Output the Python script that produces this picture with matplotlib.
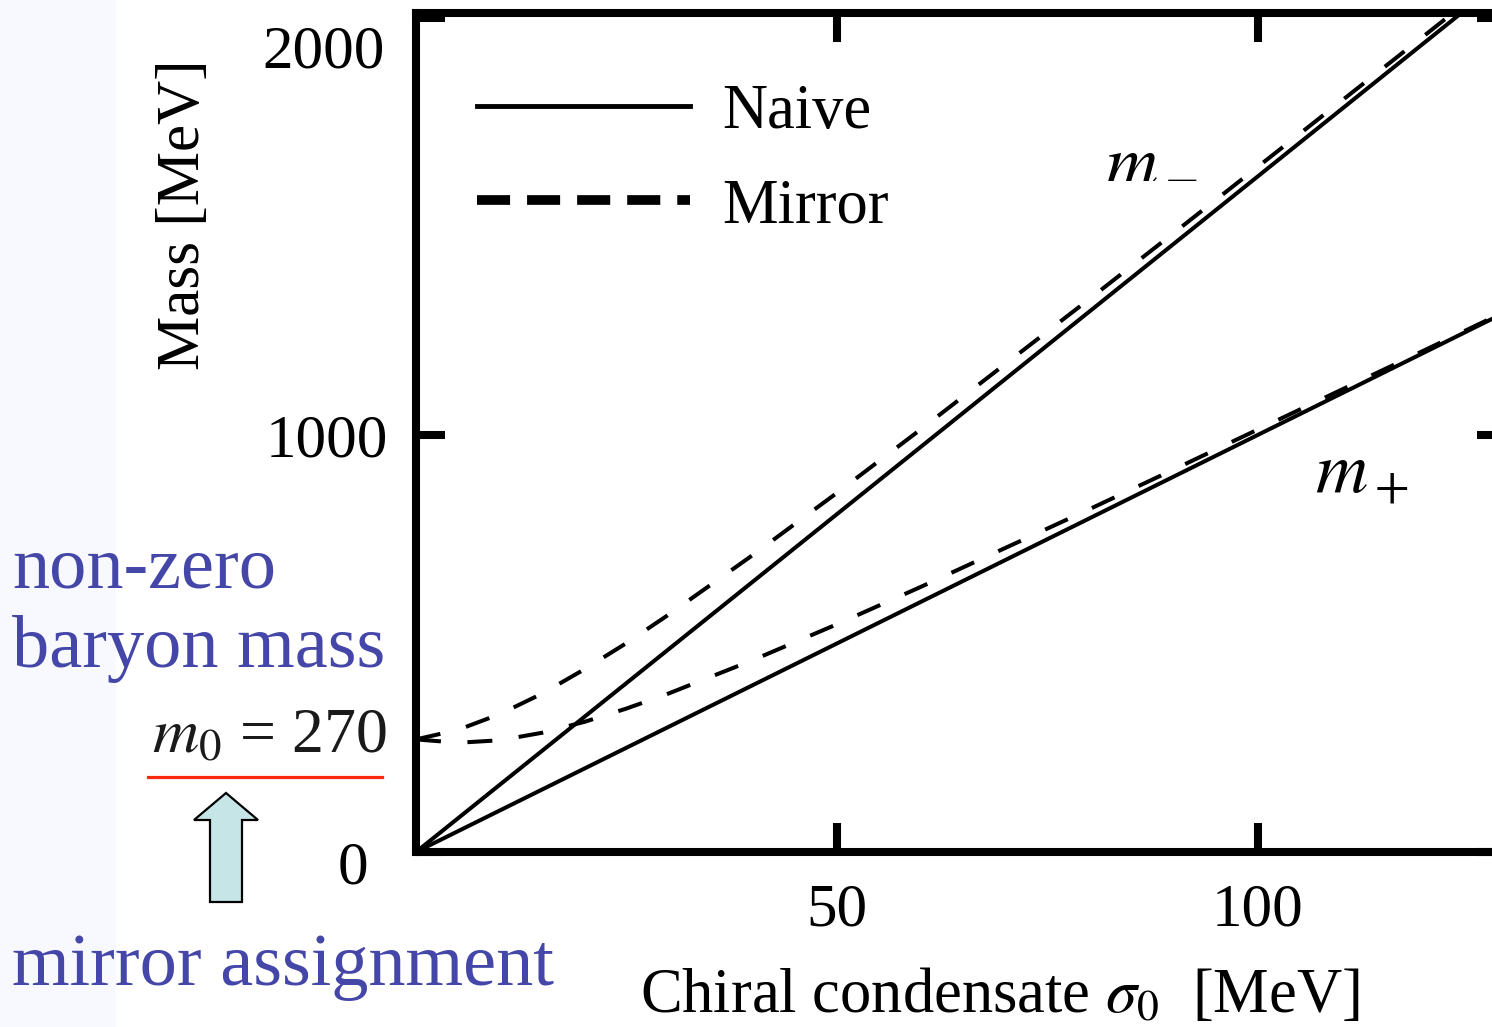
import matplotlib
matplotlib.use("Agg")
import matplotlib.pyplot as plt
from matplotlib.lines import Line2D
from matplotlib.patches import Polygon, Rectangle
from matplotlib.transforms import ScaledTranslation

plt.rcParams["font.family"] = ["Liberation Serif", "DejaVu Serif"]
plt.rcParams["mathtext.fontset"] = "stix"

# Naive assignment: straight lines through the origin
sigma_naive = [0, 130]
naive_minus = [0, 2106]
naive_plus = [0, 1300]

# Mirror assignment, m0 = 270 MeV
sigma_mirror = [0, 5, 10, 15, 20, 25, 30, 40, 50, 60, 70, 80, 90, 100, 110, 120, 130]
mirror_minus = [270, 293, 331, 380, 438, 501, 569, 712, 861, 1014, 1170, 1326, 1484, 1643, 1802, 1961, 2121]
mirror_plus = [270, 262, 268, 286, 312, 344, 380, 460, 546, 636, 729, 822, 917, 1013, 1109, 1205, 1302]

xticks = [50, 100]
yticks = [0, 1000, 2000]
ytick_labels = ["0", "1000", "2000"]

W, H = 1492, 1027
fig = plt.figure(figsize=(W / 100, H / 100), dpi=100)


def fx(px):
    return px / W


def fy(py):
    return 1 - py / H


# pale strip on the slide at the far left
fig.patches.append(Rectangle((0, 0), fx(116), 1, transform=fig.transFigure,
                             facecolor="#f8f8ff", edgecolor="none", zorder=0))

ax = fig.add_axes([fx(416), fy(852), (1506 - 416) / W, (852 - 13) / H])
ax.set_xlim(0, 129.5)
ax.set_ylim(0, 2012)

lw = 2.9
ax.plot(sigma_naive, naive_minus, color="k", lw=lw, solid_capstyle="round")
ax.plot(sigma_naive, naive_plus, color="k", lw=lw, solid_capstyle="round")
ax.plot(sigma_mirror, mirror_minus, color="k", lw=lw, dashes=(6.2, 6.6))
ax.plot(sigma_mirror, mirror_plus, color="k", lw=lw, dashes=(6.2, 6.6))

for s in ax.spines.values():
    s.set_linewidth(5.8)

ax.set_xticks(xticks)
ax.set_xticklabels([str(t) for t in xticks])
ax.set_yticks(yticks)
ax.set_yticklabels(ytick_labels)
ax.tick_params(direction="in", length=21, width=5.8, top=True, right=True,
               labelsize=44)
ax.tick_params(axis="x", pad=22)
ax.tick_params(axis="y", pad=20)

# nudge the "0" and "2000" labels the way they sit in the figure
ylabs = ax.get_yticklabels()
ylabs[0].set_transform(ylabs[0].get_transform() + ScaledTranslation(-0.20, -0.10, fig.dpi_scale_trans))
ylabs[2].set_transform(ylabs[2].get_transform() + ScaledTranslation(-0.03, -0.28, fig.dpi_scale_trans))

handles = [Line2D([], [], color="k", lw=3.5),
           Line2D([], [], color="k", lw=7, dashes=(3.4, 1.75))]
ax.legend(handles, ["Naive", "Mirror"], loc="upper left",
          bbox_to_anchor=((477 - 416) / 1090, (852 - 84) / 839),
          frameon=False, fontsize=45, handlelength=3.4, handletextpad=0.52,
          labelspacing=0.58, borderpad=0, borderaxespad=0)

fig.text(fx(1105), fy(177), "$m_-$", fontsize=52, ha="left", va="baseline")
fig.text(fx(1315), fy(493), "$m_+$", fontsize=52, ha="left", va="baseline")

fig.text(fx(184), fy(215), "Mass [MeV]", rotation=90, ha="center", va="center",
         fontsize=44)
fig.text(fx(1000), fy(1012), "Chiral condensate $\\sigma_0$  [MeV]", ha="center",
         va="baseline", fontsize=45)

# slide annotations
blue = "#4547a8"
fig.text(fx(12), fy(587), "non-zero", color=blue, fontsize=53.5, va="baseline")
fig.text(fx(12), fy(667), "baryon mass", color=blue, fontsize=53.5, va="baseline")
fig.text(fx(12), fy(985), "mirror assignment", color=blue, fontsize=53.5, va="baseline")
fig.text(fx(152), fy(752), "$m_0$ = 270", color="#1a1a1a", fontsize=46, va="baseline")
fig.lines.append(Line2D([fx(148), fx(382)], [fy(777), fy(777)], transform=fig.transFigure,
                        color="#ff2a10", lw=2.3))
arrow_px = [(226, 793), (258, 820), (242, 820), (242, 902), (210, 902), (210, 820), (194, 820)]
fig.patches.append(Polygon([(fx(x), fy(y)) for x, y in arrow_px], closed=True,
                           transform=fig.transFigure, facecolor="#c5e5e6",
                           edgecolor="k", lw=1.6))

fig.savefig("out.png", dpi=100)
